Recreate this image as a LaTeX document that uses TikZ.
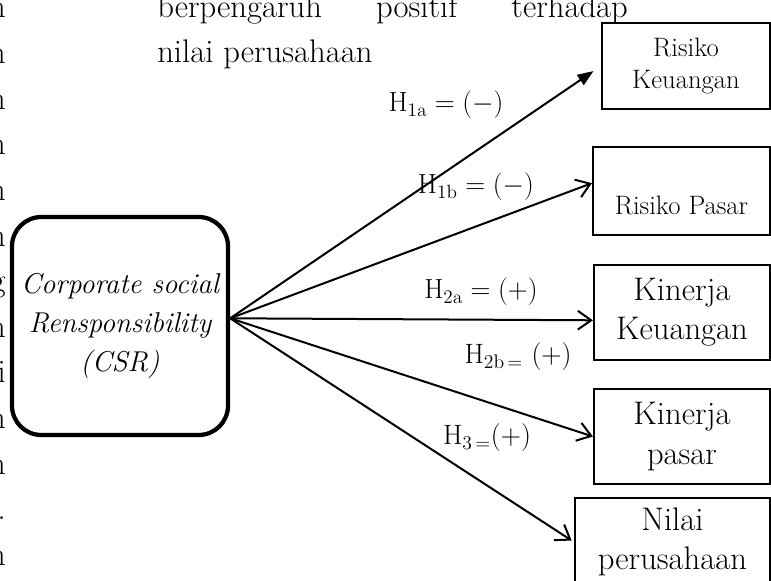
\documentclass[tikz,border=0pt]{standalone}
\usepackage{tikz}
\usetikzlibrary{arrows.meta,positioning}
\newcommand{\bodyfont}{\fontsize{24.5}{29.4}\selectfont}
\newcommand{\smallbox}{\fontsize{20}{24.5}\selectfont}

\begin{document}
\begin{tikzpicture}[x=0.75pt, y=-0.75pt,
    txt/.style={font=\bodyfont, inner sep=0pt},
    box/.style={draw, line width=1.6pt, align=center, font=\bodyfont},
    sbox/.style={box, font=\smallbox},
    csrbox/.style={draw, line width=3.2pt, rounded corners=22pt, minimum width=162pt, minimum height=163.5pt, inner sep=2pt, align=center, font=\fontsize{21.5}{29}\selectfont\itshape},
    arr/.style={-{Straight Barb[length=10pt, width=14pt]}, line width=1.5pt},
    hyp/.style={font=\fontsize{19.5}{22}\selectfont, inner sep=1pt},
    hypt/.style={font=\fontsize{21}{23}\selectfont, inner sep=1pt}
]
\useasboundingbox (0,0) rectangle (771,581);
\clip (0,0) rectangle (771,581);

\foreach \c [count=\i from 0] in {n,n,n,n,n,n,g,n,i,n,n,.,n}
  \node[txt, anchor=base east] (col\i) at (6,18+45.6*\i) {\c};
\node[txt, anchor=base west] (line1) at (157,18) {\makebox[353pt][s]{berpengaruh positif terhadap}};
\node[txt, anchor=base west] (line2) at (157,63) {nilai perusahaan};

\node[csrbox] (csr) at (120,326) {Corporate social\\Rensponsibility\\(CSR)};

\node[sbox, minimum width=126pt, minimum height=64.5pt] (rk) at (686,66) {Risiko\\Keuangan};
\node[sbox, minimum width=132.75pt, minimum height=66pt,
      label={[font=\smallbox, yshift=-10.5pt]center:Risiko Pasar}] (rp) at (681.5,191) {};
\node[box, minimum width=132pt, minimum height=71.25pt] (kk) at (682,312.5) {Kinerja\\Keuangan};
\node[box, minimum width=132pt, minimum height=71.25pt] (kp) at (682,436.5) {Kinerja\\pasar};
\node[box, minimum width=146.25pt, minimum height=66pt] (np) at (672.5,542) {Nilai\\perusahaan};

\draw[arr, -{Triangle[length=12pt, width=9pt]}, shorten >=6.75pt] (csr.4) -- (rk.west);
\draw[arr] (csr.4) -- (rp.175);
\draw[arr] (csr.4) -- (kk.185);
\draw[arr] (csr.4) -- (kp.west);
\draw[arr, shorten >=2pt] (csr.4) -- (np.west);

\node[hyp] (h1a) at (446,105) {$\mathrm{H}_{\mathrm{1a}} = (-)$};
\node[hyp] (h1b) at (476,187) {$\mathrm{H}_{\mathrm{1b}} = (-)$};
\node[hyp] (h2a) at (481,292) {$\mathrm{H}_{\mathrm{2a}} = (+)$};
\node[hypt] (h2b) at (518,357) {H\textsubscript{2b\,=} (+)};
\node[hypt] (h3) at (487,438) {H\textsubscript{3\,=}(+)};
\end{tikzpicture}
\end{document}
